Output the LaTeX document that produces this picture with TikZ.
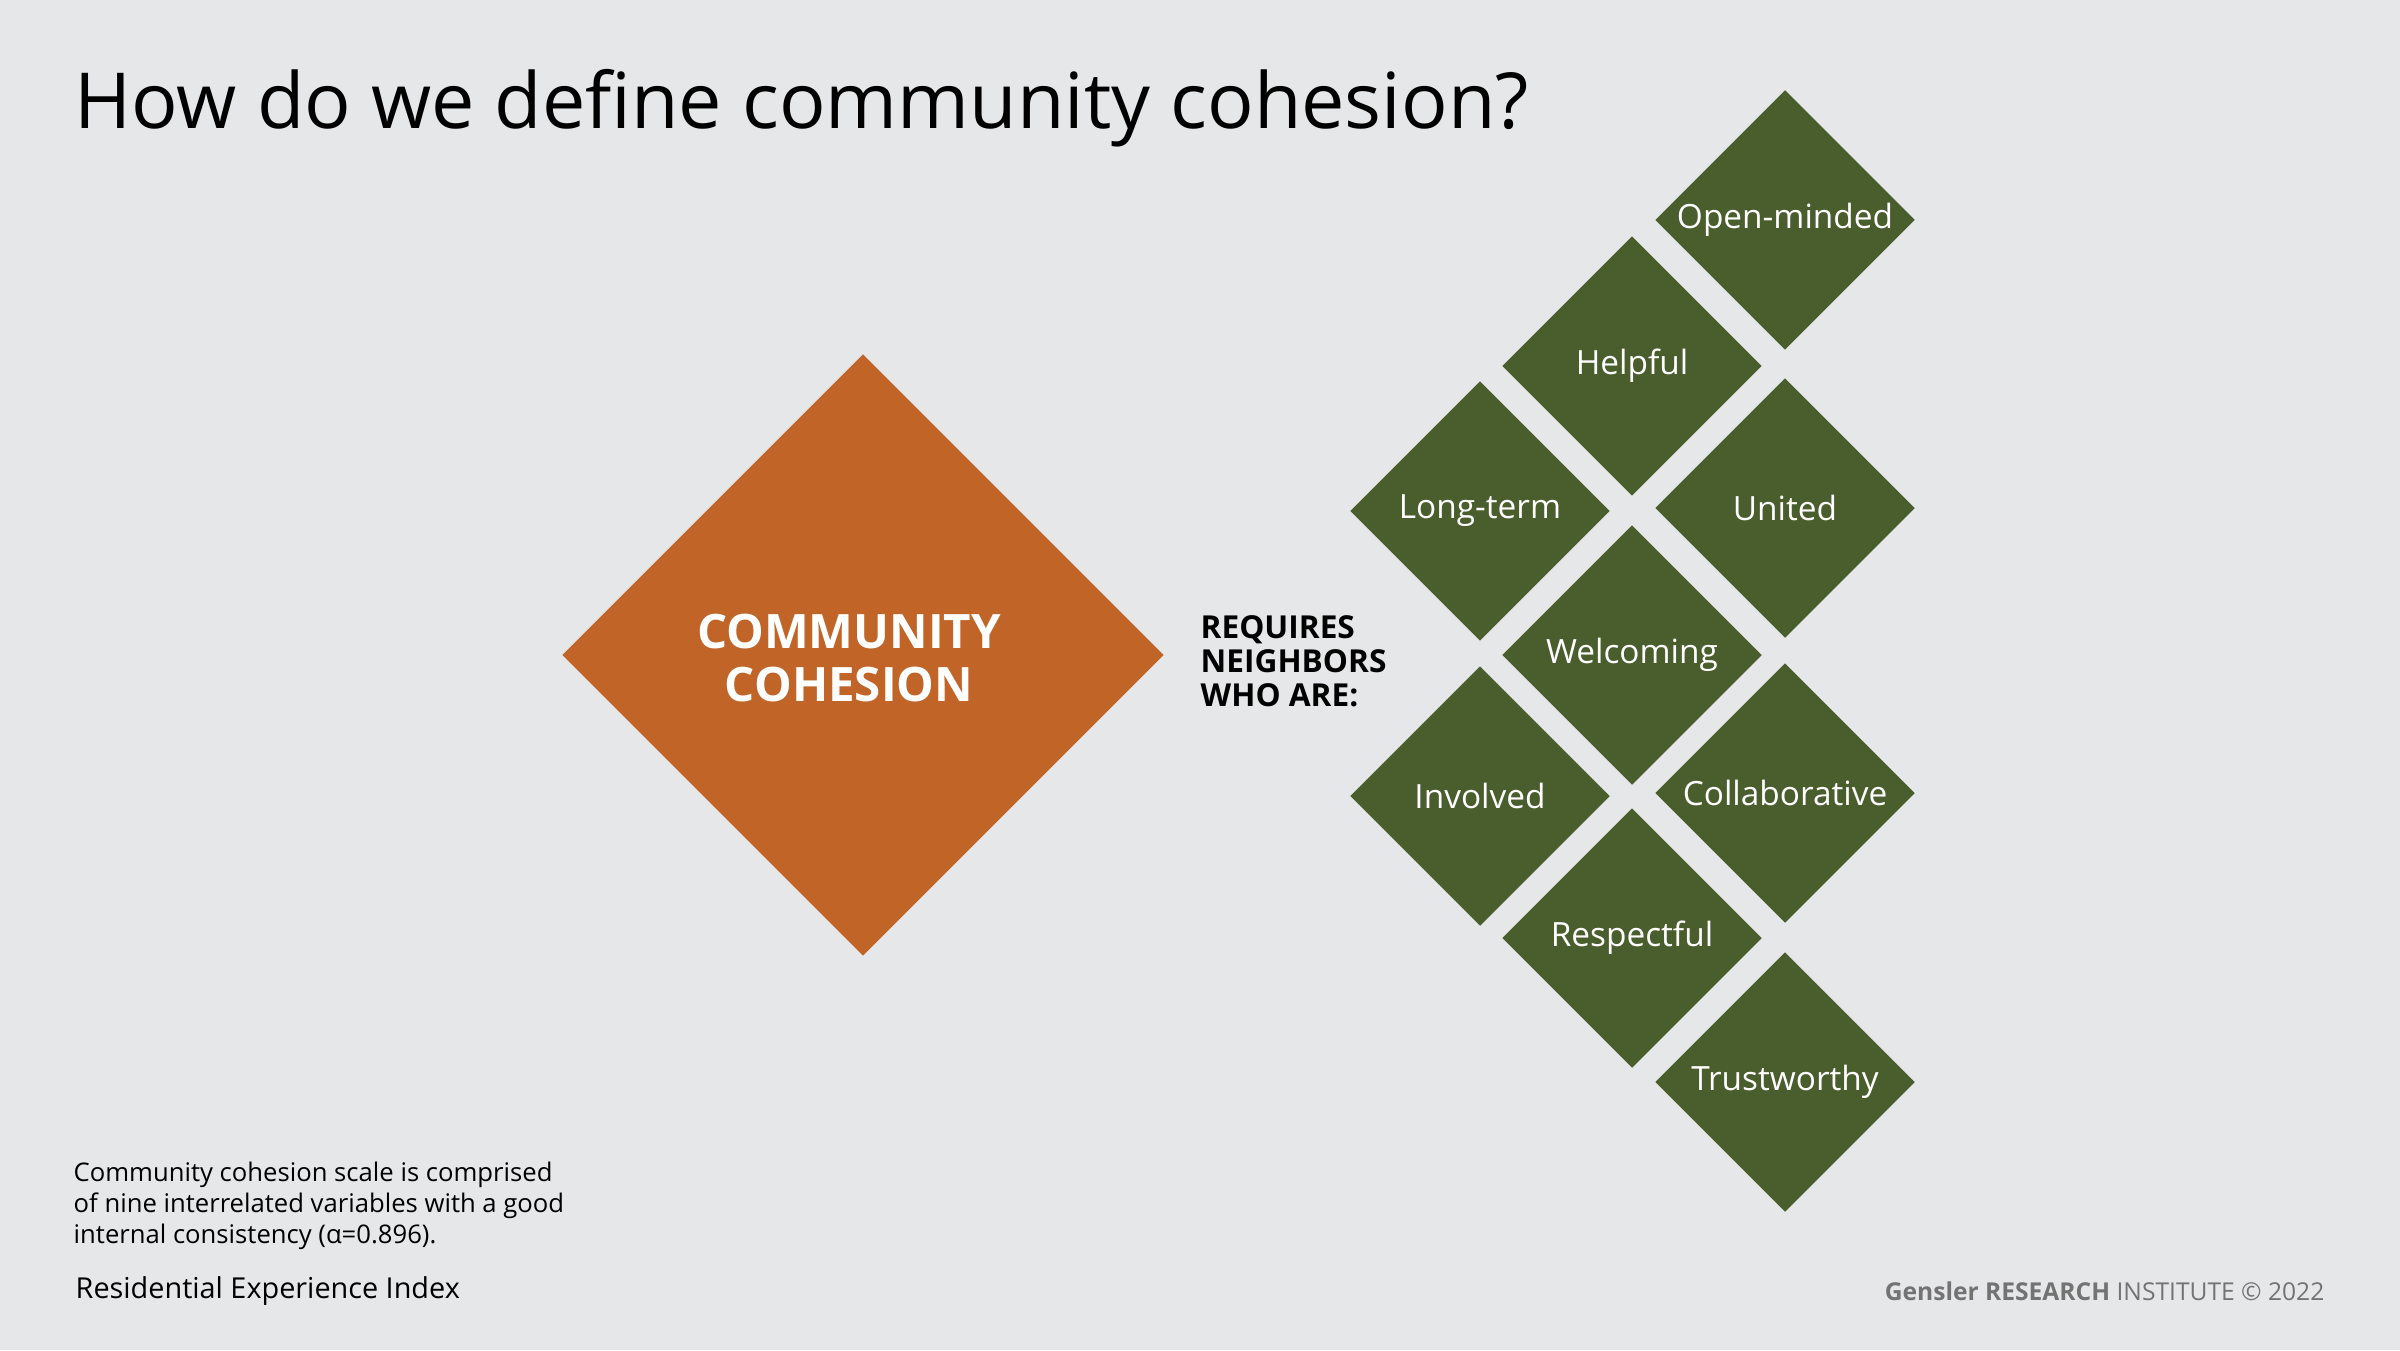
\documentclass[tikz,border=0pt]{standalone}
\usepackage{fontspec}
\setmainfont{Open Sans}
\usetikzlibrary{shapes.geometric}
\definecolor{bgray}{HTML}{E6E7E8}
\definecolor{cohorange}{HTML}{C06428}
\definecolor{nbgreen}{HTML}{4A5D2C}
\tikzset{
  trait/.style={diamond, fill=nbgreen, minimum width=2.6cm, minimum height=2.6cm,
    inner sep=0pt, text=white, font=\fontsize{9.5}{11}\selectfont},
}
\begin{document}
\begin{tikzpicture}
\fill[bgray] (0,0) rectangle (24,13.5);
\useasboundingbox (0,0) rectangle (24,13.5);
%-----------------------------------------------
\node[anchor=west, inner sep=0pt, font=\fontsize{22}{26}\selectfont] (title) at (0.74,12.42) {How do we define community cohesion?};
%-----------------------------------------------
\node[diamond, fill=cohorange, minimum width=6.02cm, minimum height=6.02cm, inner sep=0pt] (cc) at (8.63,6.95) {};
\node[text=white, align=center, font=\bfseries\fontsize{13.5}{15}\selectfont] (cclabel) at (8.49,6.92) {COMMUNITY\\COHESION};
\node[anchor=west, inner sep=0pt, align=left, font=\bfseries\fontsize{9}{9.6}\selectfont] (req) at (12.0,6.89) {REQUIRES\\NEIGHBORS\\WHO ARE:};
%-----------------------------------------------
\node[trait] (open)   at (17.85,11.30) {Open-minded};
\node[trait] (help)   at (16.32,9.84)  {Helpful};
\node[trait] (long)   at (14.80,8.39)  {Long-term};
\node[trait] (unit)   at (17.85,8.42)  {United};
\node[trait] (welc)   at (16.32,6.95)  {Welcoming};
\node[trait] (invo)   at (14.80,5.54)  {Involved};
\node[trait] (coll)   at (17.85,5.57)  {Collaborative};
\node[trait] (resp)   at (16.32,4.12)  {Respectful};
\node[trait] (trust)  at (17.85,2.68)  {Trustworthy};
%-----------------------------------------------
\node[anchor=north west, inner sep=0pt, align=left, font=\fontsize{7.3}{8.8}\selectfont] (note) at (0.73,1.89) {Community cohesion scale is comprised\\of nine interrelated variables with a good\\internal consistency (α=0.896).};
\node[anchor=west, inner sep=0pt, font=\fontsize{8.2}{10}\selectfont] (src) at (0.75,0.59) {Residential Experience Index};
\node[anchor=east, inner sep=0pt, text=black!55, font=\fontsize{7}{9}\selectfont] (brand) at (23.25,0.59) {\textbf{Gensler RESEARCH} INSTITUTE © 2022};
\end{tikzpicture}
\end{document}
